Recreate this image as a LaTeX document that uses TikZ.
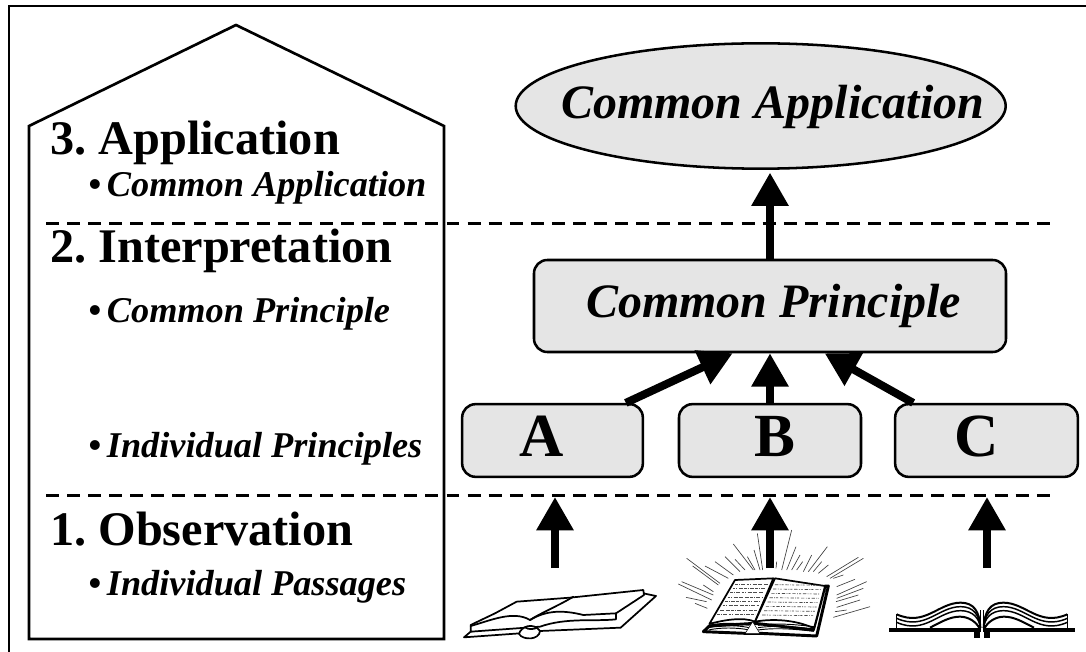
\documentclass[tikz,border=0pt]{standalone}
\usepackage{fontspec}
\setmainfont{Liberation Serif}
\frenchspacing
\usetikzlibrary{shapes.geometric,arrows.meta}
\newcommand{\bul}{•\hspace{4.5pt}}
\tikzset{
 px/.style={x=0.75pt,y=-0.75pt},
 head/.style={font=\fontsize{36.2}{40}\selectfont\bfseries,anchor=base west,inner sep=0pt},
 sub/.style={font=\fontsize{27.2}{30}\selectfont\bfseries\itshape,anchor=base west,inner sep=0pt},
 gbox/.style={draw=black,line width=1.9pt,fill=black!10,rounded corners=10pt,inner sep=0pt},
 letter/.style={font=\fontsize{46}{50}\selectfont\bfseries,anchor=base,inner sep=0pt},
 big/.style={font=\fontsize{36}{40}\selectfont\bfseries\itshape,anchor=base west,inner sep=0pt},
 upar/.style={line width=6pt,-{Triangle[length=25pt,width=26.5pt]}},
 dashline/.style={line width=2.3pt,dash pattern=on 9.7pt off 6.11pt},
 frame/.style={line width=2pt,line join=miter},
 inkl/.style={line width=1.3pt,line join=round,line cap=round},
 ray/.style={line width=0.5pt,black!75},
 zoomA/.style={shift={(450,530)},x=.25pt,y=-.25pt},
 zoomB/.style={shift={(670,520)},x=.25pt,y=-.25pt},
 zoomC/.style={shift={(870,560)},x=.25pt,y=-.25pt},
 zoomD/.style={shift={(1094,560)},x=-.25pt,y=-.25pt},
}
\newcommand{\pagesC}{%
 \fill (57,204) rectangle (332,216);
 \fill (313,204) rectangle (331,233);
 \draw[line width=1.1pt] (80,163) -- (80,204);
 \foreach \yy/\w in {163/1.5,175/1.1,187/1.1}{
  \draw[line width=\w pt] (80,\yy) .. controls (165,\yy+38) and (205,\yy-35) .. (272,\yy-35) .. controls (312,\yy-35) and (329,\yy-8) .. (331,204);}
 \draw[line width=1.5pt] (180,203) .. controls (215,185) and (240,170) .. (270,170) .. controls (295,170) and (318,185) .. (328,204);
 \draw[line width=1.1pt] (331,150) -- (331,204);
}
\begin{document}
\begin{tikzpicture}[px]
\useasboundingbox (0,0) rectangle (1086,652);
\draw[frame] (9,652) -- (9,6) -- (1086,6);
% house
\draw[frame] (29,639) -- (29,126) -- (236,25) -- (444,126) -- (444,639) -- cycle;
% dashed
\coordinate (d1a) at (46,223.5); \coordinate (d1b) at (1051,223.5);
\coordinate (d2a) at (46,495.5); \coordinate (d2b) at (1051,495.5);
\draw[dashline] (d1a) -- (d1b);
\draw[dashline] (d2a) -- (d2b);
% left text
\node[head] (t3) at (50,155) {3. Application};
\node[sub] (s3) at (88,197) {\bul Common Application};
\node[head] (t2) at (50,263) {2. Interpretation};
\node[sub] (s2) at (88,323) {\bul Common Principle};
\node[sub] (s2b) at (88,457) {\bul Individual Principles};
\node[head] (t1) at (50,545) {1. Observation};
\node[sub] (s1) at (88,595) {\bul Individual Passages};
% nodes
\node[draw,line width=1.9pt,fill=black!10,ellipse,minimum width=367.5pt,minimum height=94pt,inner sep=0pt] (app) at (760.7,106) {};
\node[big] (apptxt) at (561,119) {Common Application};
\node[gbox,minimum width=354pt,minimum height=69pt] (cp) at (770,306) {};
\node[big] (cptxt) at (586,317.5) {Common Principle};
\node[gbox,minimum width=135.5pt,minimum height=54.5pt] (a) at (552.5,440.5) {};
\node[gbox,minimum width=136.5pt,minimum height=54.5pt] (b) at (770,440.5) {};
\node[gbox,minimum width=137pt,minimum height=54.5pt] (c) at (986.5,440.5) {};
\node[letter] (la) at (541.5,456) {A};
\node[letter] (lb) at (775,456) {B};
\node[letter] (lc) at (976.5,456) {C};
% arrows
\draw[upar,shorten >=2pt] (cp.north) -- (cp.north |- app.south);
\draw[upar] ([xshift=55pt]a.north) -- ([xshift=-28pt]cp.south);
\draw[upar] (b.north) -- (cp.south);
\draw[upar] ([xshift=-55pt]c.north) -- ([xshift=41pt]cp.south);
\coordinate (p1) at (555,568); \coordinate (h1) at (555,497);
\coordinate (p2) at (770,568); \coordinate (h2) at (770,497);
\coordinate (p3) at (987,568); \coordinate (h3) at (987,497);
% book 1
\begin{scope}[zoomA,inkl]
\draw[fill=white] (42,322) -- (62,305) -- (580,190) -- (618,198) -- (512,293) -- (270,303) -- (210,310) -- cycle;
\draw[fill=white] (62,285) -- (135,250) -- (200,215) -- (360,203) -- (580,180) -- (582,195) -- (498,250) -- (498,268)
  .. controls (430,275) and (350,262) .. (270,290) -- (62,305) -- cycle;
\draw (62,288) .. controls (120,272) and (190,240) .. (240,270) .. controls (290,240) and (340,240) .. (400,255) -- (498,250);
\draw (240,270) .. controls (270,250) and (330,225) .. (370,200);
\draw[fill=white] (207,312) .. controls (212,290) and (250,275) .. (270,303) .. controls (268,330) and (220,332) .. cycle;
\draw (225,292) .. controls (235,300) and (255,298) .. (262,292);
\end{scope}
% book 2
\begin{scope}[zoomB,line join=round]
\draw[line width=2.2pt,fill=white] (118,318) -- (100,335) -- (225,340) -- (270,340) -- (440,348) -- (475,198) -- (465,198) -- (430,330) -- (255,310) -- cycle;
\draw[line width=1.3pt,fill=white] (195,180) -- (310,175) -- (255,305) .. controls (220,290) and (160,300) .. (118,312) -- cycle;
\draw[line width=1.3pt,fill=white] (315,175) -- (465,198) -- (432,325) .. controls (380,300) and (310,295) .. (255,305) -- cycle;
\foreach \yy in {316,323,330}{
 \draw[line width=.7pt] (116,\yy) .. controls (150,\yy-8) and (200,\yy-8) .. (238,\yy);
 \draw[line width=.7pt] (264,\yy) .. controls (320,\yy-8) and (380,\yy-2) .. (432,\yy+4);}
\fill[white,draw=black,line width=.4pt] (225,341) -- (248,305) -- (270,341) -- cycle;
\foreach \yy in {192,205,218,231,244,257,270,283}{
 \pgfmathsetmacro{\la}{195-(\yy-180)*.59+8}
 \pgfmathsetmacro{\lb}{310-(\yy-175)*.42-10}
 \pgfmathsetmacro{\ra}{312-(\yy-175)*.42+10}
 \pgfmathsetmacro{\rb}{465-(\yy-198)*.26-10}
 \draw[line width=.5pt,black!70,dash pattern=on 2pt off .6pt on .7pt off 1.2pt on 3pt off 1pt] (\la,\yy) -- (\lb,\yy);
 \draw[line width=.5pt,black!70,dash pattern=on 2.5pt off 1pt on .7pt off .8pt on 1.5pt off 1.4pt] (\ra,\yy+2) -- (\rb,\yy+4);
}
\foreach \xa/\ya/\xb/\yb in {262/40/278/150,365/30/335/150,252/90/270/150,378/80/350/150,190/72/250/150,232/110/255/150,390/105/365/150,398/125/380/150,320/125/318/145,472/80/415/155,425/105/400/155,455/125/430/155,475/135/445/160,565/112/470/170,580/115/480/175,165/110/210/155,195/118/225/150,135/125/190/165,105/138/175/175,50/115/150/190,68/138/145/195,35/185/130/225,25/192/125/240,100/195/130/215,48/232/110/245,75/250/112/265,555/178/500/200,520/165/490/175,590/185/500/225,580/205/500/235,565/225/498/245,570/240/500/262,530/270/495/275,600/260/490/292}
 {\draw[ray] (\xa,\ya) -- (\xb,\yb);}
\end{scope}
\draw[upar] (p1) -- (h1);
\draw[upar] (p2) -- (h2);
\draw[upar] (p3) -- (h3);
% book 3
\begin{scope}[zoomC]\pagesC\end{scope}
\begin{scope}[zoomD]\pagesC\end{scope}
\end{tikzpicture}
\end{document}
